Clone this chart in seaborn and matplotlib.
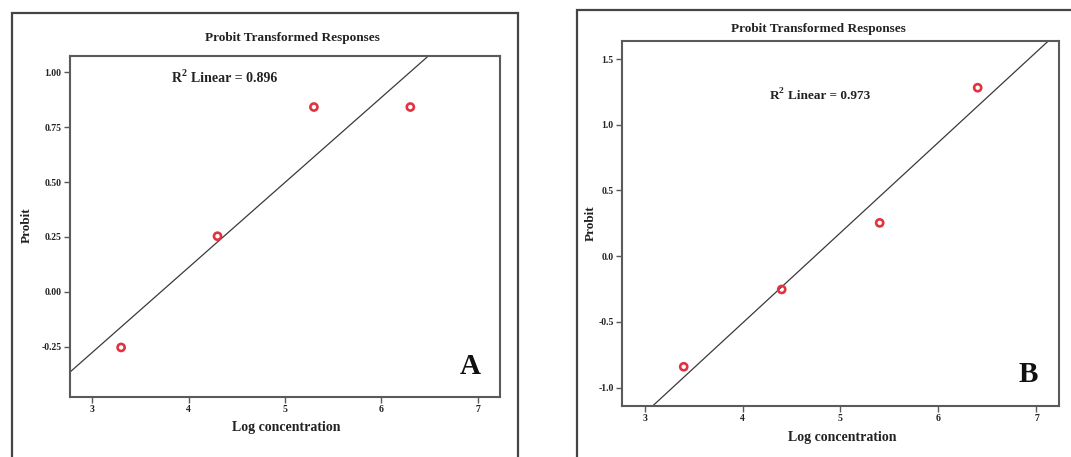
import numpy as np
import matplotlib
matplotlib.use("Agg")
import matplotlib.pyplot as plt
from matplotlib.patches import Rectangle
import seaborn as sns

# ---- data ----
log_conc_a = [3.3, 4.3, 5.3, 6.3]
probit_a = [-0.2533, 0.2533, 0.8416, 0.8416]
log_conc_b = [3.4, 4.4, 5.4, 6.4]
probit_b = [-0.8416, -0.2533, 0.2533, 1.2816]
r2_a = "0.896"
r2_b = "0.973"
x_ticks = [3, 4, 5, 6, 7]
y_ticks_a = [-0.25, 0.00, 0.25, 0.50, 0.75, 1.00]
y_ticks_b = [-1.0, -0.5, 0.0, 0.5, 1.0, 1.5]
title = "Probit Transformed Responses"
xlabel = "Log concentration"
ylabel = "Probit"

sns.set_style("white")
plt.rcParams["font.family"] = ["Liberation Serif", "DejaVu Serif"]

W, H = 1071, 457
fig = plt.figure(figsize=(W / 100, H / 100), dpi=100)
fig.patch.set_facecolor("white")

def fx(px):
    return px / W

def fy(py):
    return 1 - py / H

red = "#e3323f"
spine_c = "#5a5a5a"

def panel(rect, xs, ys, yticks, ylim, yfmt, r2, r2_pos, r2_size, letter, letter_pos,
          title_pos, xlabel_pos, ylabel_pos, frame):
    l, t, r, b = rect
    ax = fig.add_axes([fx(l), fy(b), fx(r) - fx(l), fy(t) - fy(b)])
    ax.set_xlim(2.77, 7.23)
    ax.set_ylim(*ylim)
    sns.regplot(x=xs, y=ys, ax=ax, ci=None, truncate=False,
                scatter_kws=dict(color=red, facecolors="none", edgecolors=red,
                                 s=26, linewidths=1.9, alpha=1, zorder=3),
                line_kws=dict(color="#3a3a3a", lw=0.9))
    ax.set_xticks(x_ticks)
    ax.set_xticklabels([str(v) for v in x_ticks])
    ax.set_yticks(yticks)
    ax.set_yticklabels([yfmt.format(v) for v in yticks])
    ax.tick_params(axis="both", which="both", direction="out", length=4, width=1.0,
                   color=spine_c, labelsize=7, bottom=True, left=True, pad=2)
    for lab in ax.get_xticklabels() + ax.get_yticklabels():
        lab.set_fontweight("bold")
        lab.set_color("#222222")
    for s in ax.spines.values():
        s.set_color(spine_c)
        s.set_linewidth(1.5)
    ax.set_xlabel("")
    ax.set_ylabel("")
    ax.text(r2_pos[0], r2_pos[1], "R", fontsize=r2_size,
            fontweight="bold", ha="left", va="center", color="#222222")
    rt = ax.annotate("2", xy=(r2_pos[0], r2_pos[1]), xycoords="data",
                     xytext=(r2_size * 0.68, 3.5), textcoords="offset points",
                     fontsize=r2_size * 0.72, fontweight="bold", ha="left", va="center",
                     color="#222222")
    ax.annotate("Linear = " + r2, xy=(r2_pos[0], r2_pos[1]), xycoords="data",
                xytext=(r2_size * 0.68 + r2_size * 0.72 * 0.5 + 3, 0),
                textcoords="offset points",
                fontsize=r2_size, fontweight="bold", ha="left", va="center",
                color="#222222")
    ax.text(letter_pos[0], letter_pos[1], letter, transform=ax.transAxes,
            fontsize=21, fontweight="bold", ha="center", va="center", color="#111111")
    fig.text(fx(title_pos[0]), fy(title_pos[1]), title, fontsize=9.5, fontweight="bold",
             ha="center", va="center", color="#222222")
    fig.text(fx(xlabel_pos[0]), fy(xlabel_pos[1]), xlabel, fontsize=10, fontweight="bold",
             ha="center", va="center", color="#222222")
    fig.text(fx(ylabel_pos[0]), fy(ylabel_pos[1]), ylabel, fontsize=9.5, fontweight="bold",
             ha="center", va="center", rotation=90, color="#222222")
    fl, ft, fr, fb = frame
    fig.patches.append(Rectangle((fx(fl), fy(fb)), fx(fr) - fx(fl), fy(ft) - fy(fb),
                                 transform=fig.transFigure, fill=False,
                                 edgecolor="#444444", linewidth=1.6, zorder=0))
    return ax

panel((70, 56, 500, 397), log_conc_a, probit_a, y_ticks_a, (-0.479, 1.074), "{:.2f}",
      r2_a, (3.83, 0.97), 10, "A", (0.93, 0.09),
      (292, 38), (286, 428), (27, 225), (12, 13, 518, 475))
panel((622, 41, 1059, 406), log_conc_b, probit_b, y_ticks_b, (-1.14, 1.637), "{:.1f}",
      r2_b, (4.28, 1.216), 9.5, "B", (0.93, 0.085),
      (818, 29), (842, 437), (591, 223), (577, 10, 1080, 475))

fig.savefig("out.png", dpi=100, facecolor="white")
